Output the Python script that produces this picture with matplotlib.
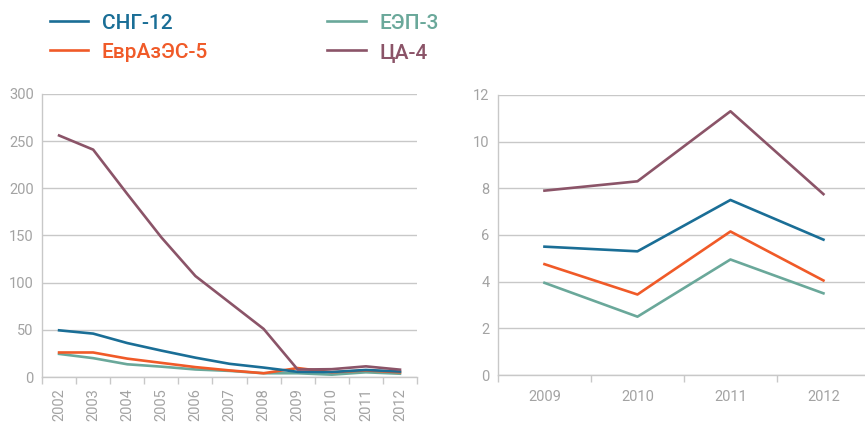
import matplotlib
matplotlib.use("Agg")
import matplotlib.pyplot as plt
import numpy as np

years_all = ["2002", "2003", "2004", "2005", "2006", "2007", "2008", "2009", "2010", "2011", "2012"]
years_last = ["2009", "2010", "2011", "2012"]

names = ["СНГ-12", "ЕврАзЭС-5", "ЕЭП-3", "ЦА-4"]
colors = ["#1a6e96", "#f05a28", "#6aa89a", "#8b5468"]

sng_all = [49.5, 46, 36, 28, 20.5, 14, 10, 5.5, 5.3, 7.5, 5.8]
evraz_all = [26, 26, 19.5, 15, 10.5, 7, 4, 9.5, 5, 7, 5]
eep_all = [24.5, 20, 13.5, 11, 8, 6.5, 4, 4, 2.5, 5, 3.5]
ca_all = [256, 241, 194, 148, 107, 79, 51, 7.9, 8.3, 11.3, 7.8]

sng_last = [5.5, 5.3, 7.5, 5.8]
evraz_last = [4.75, 3.45, 6.15, 4.05]
eep_last = [3.95, 2.5, 4.95, 3.5]
ca_last = [7.9, 8.3, 11.3, 7.75]

plt.rcParams['font.family'] = ['Roboto', 'DejaVu Sans']
gray = "#a3a3a3"
grid = "#c8c8c8"

fig = plt.figure(figsize=(8.65, 4.25), dpi=100)
ax1 = fig.add_axes([0.0486, 0.1129, 0.4335, 0.666])
ax2 = fig.add_axes([0.5757, 0.1176, 0.430, 0.659])


def style(ax, labels, ymax, ystep, rot, pad):
    n = len(labels)
    ax.set_xlim(-0.5, n - 0.5)
    ax.set_ylim(0, ymax)
    ax.set_yticks(np.arange(0, ymax + 0.01, ystep))
    ax.set_xticks(np.arange(-0.5, n, 1.0))
    ax.set_xticklabels([])
    ax.set_xticks(np.arange(n), minor=True)
    ax.set_xticklabels(labels, minor=True, rotation=rot, color=gray, fontsize=10.5)
    ax.tick_params(axis='x', which='minor', length=0, pad=pad)
    ax.tick_params(axis='x', which='major', length=5, width=1, color=grid, direction='out')
    ax.tick_params(axis='y', length=0, labelsize=10.5, labelcolor=gray, pad=6)
    ax.grid(axis='y', color=grid, lw=1)
    ax.set_axisbelow(True)
    for s in ['top', 'right']:
        ax.spines[s].set_visible(False)
    for s in ['left', 'bottom']:
        ax.spines[s].set_color(grid)
        ax.spines[s].set_linewidth(1)


series_all = [sng_all, evraz_all, eep_all, ca_all]
series_last = [sng_last, evraz_last, eep_last, ca_last]
order = [2, 1, 0, 3]
for i in order:
    ax1.plot(np.arange(len(years_all)), series_all[i], color=colors[i], lw=1.9, label=names[i])
    ax2.plot(np.arange(len(years_last)), series_last[i], color=colors[i], lw=1.9)

style(ax1, years_all, 300, 50, 90, 8)
style(ax2, years_last, 12, 2, 0, 11)

handles, labels = ax1.get_legend_handles_labels()
hmap = dict(zip(labels, handles))
leg = fig.legend([hmap[n] for n in names], names, ncol=2, loc='upper left',
                 bbox_to_anchor=(0.036, 1.012), frameon=False,
                 handlelength=1.85, handletextpad=0.65, columnspacing=5.7,
                 labelspacing=0.48, labelcolor='linecolor',
                 prop={'weight': 'medium', 'size': 15})

fig.savefig("out.png", dpi=100)
